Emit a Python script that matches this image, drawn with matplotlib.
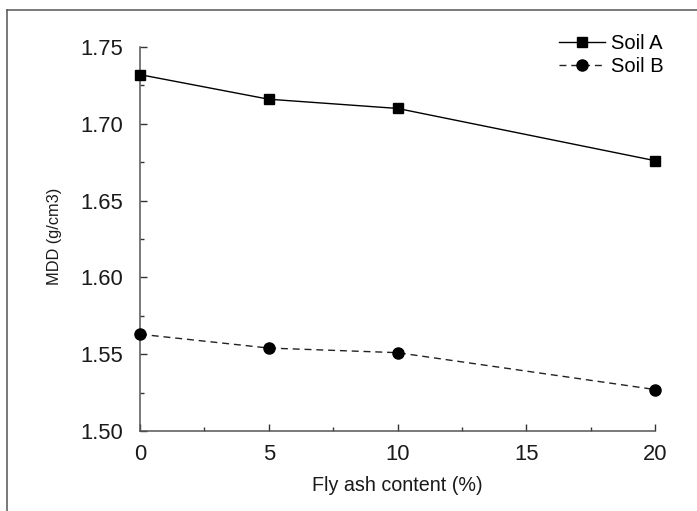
import matplotlib
matplotlib.use("Agg")
import matplotlib.pyplot as plt
from matplotlib.lines import Line2D
from matplotlib.ticker import MultipleLocator, FormatStrFormatter

# --- data ---
fly_ash = [0, 5, 10, 20]
soil_a = [1.732, 1.716, 1.710, 1.676]
soil_b = [1.563, 1.554, 1.551, 1.527]
series_names = ["Soil A", "Soil B"]

plt.rcParams['font.family'] = ['Liberation Sans', 'DejaVu Sans']

W, H = 697, 511
fig = plt.figure(figsize=(W / 100, H / 100), dpi=100)

# axes box in pixels: left 140, right 655, top 47, bottom 431
ax = fig.add_axes([140 / W, 1 - 431 / H, (655 - 140) / W, (431 - 47) / H])

ax.plot(fly_ash, soil_a, color='black', lw=1.0, marker='s', ms=7.5,
        label=series_names[0], clip_on=False, zorder=3)
ax.plot(fly_ash, soil_b, color='#222222', lw=1.0, ls=(0, (5, 3.5)),
        marker='o', ms=8, markerfacecolor='black', markeredgecolor='black',
        label=series_names[1], clip_on=False, zorder=3)

ax.set_xlim(0, 20)
ax.set_ylim(1.50, 1.75)
ax.xaxis.set_major_locator(MultipleLocator(5))
ax.xaxis.set_minor_locator(MultipleLocator(2.5))
ax.yaxis.set_major_locator(MultipleLocator(0.05))
ax.yaxis.set_minor_locator(MultipleLocator(0.025))
ax.yaxis.set_major_formatter(FormatStrFormatter('%.2f'))

for side in ['top', 'right']:
    ax.spines[side].set_visible(False)
for side in ['left', 'bottom']:
    ax.spines[side].set_color('#555555')
    ax.spines[side].set_linewidth(1.1)

ax.tick_params(which='both', direction='in', color='#333333', width=1.0)
ax.tick_params(which='major', length=5, labelsize=15.8, labelcolor='#1a1a1a')
ax.tick_params(which='minor', length=3)
ax.tick_params(axis='y', which='major', pad=12)
ax.tick_params(axis='x', which='major', pad=9)

ax.set_xlabel("Fly ash content (%)", fontsize=14.2, color='#1a1a1a')
ax.set_ylabel("MDD (g/cm3)", fontsize=11.8, color='#1a1a1a')
ax.xaxis.set_label_coords(0.5, -0.118)
ax.yaxis.set_label_coords(-0.151, 0.508)

leg = ax.legend(loc='upper left', bbox_to_anchor=(559 / W, 1 - 34 / H),
                bbox_transform=fig.transFigure, frameon=False, fontsize=14.5,
                handlelength=2.3, handletextpad=0.3, labelspacing=0.2,
                borderpad=0, borderaxespad=0)

# outer frame (only top and left edges visible in the crop)
fig.add_artist(Line2D([7 / W, 7 / W], [0, 1 - 10 / H], color='#555555', lw=1.1))
fig.add_artist(Line2D([7 / W, 1], [1 - 10 / H, 1 - 10 / H], color='#555555', lw=1.1))

fig.savefig("out.png", dpi=100)
